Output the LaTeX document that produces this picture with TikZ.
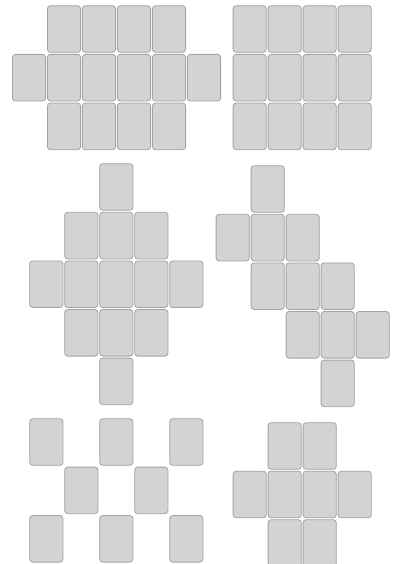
\documentclass[tikz,border=0pt]{standalone}
\usepackage{tikz}
\usepackage{xcolor}
\definecolor{cardfill}{HTML}{D2D3D5}
\definecolor{cardedge}{HTML}{A2A2A4}

\tikzset{
  card/.style={draw=cardedge, fill=cardfill, line width=0.8pt, rounded corners=3pt,
    minimum width=33.2pt, minimum height=46.6pt, inner sep=0pt, anchor=north west},
}

\begin{document}
\begin{tikzpicture}[x=1pt, y=-1pt]
    \path[use as bounding box, clip] (0,0) rectangle (397,564);
    % layout A: 4-6-4
    \begin{scope}[shift={(12,5.3)}]
      \foreach \c/\r in {1/0,2/0,3/0,4/0,0/1,1/1,2/1,3/1,4/1,5/1,1/2,2/2,3/2,4/2}
        \node[card] (a-\c-\r) at (\c*35,\r*48.7) {};
    \end{scope}
    % layout B: 4x3
    \begin{scope}[shift={(232.7,5.3)}]
      \foreach \c in {0,...,3}
        \foreach \r in {0,...,2}
          \node[card] (b-\c-\r) at (\c*35,\r*48.7) {};
    \end{scope}
    % layout C: diamond
    \begin{scope}[shift={(29.3,163.3)}]
      \foreach \c/\r in {2/0,1/1,2/1,3/1,0/2,1/2,2/2,3/2,4/2,1/3,2/3,3/3,2/4}
        \node[card] (c-\c-\r) at (\c*35,\r*48.6) {};
    \end{scope}
    % layout D: slant
    \begin{scope}[shift={(215.7,165.3)}]
      \foreach \c/\r in {1/0,0/1,1/1,2/1,1/2,2/2,3/2,2/3,3/3,4/3,3/4}
        \node[card] (d-\c-\r) at (\c*35,\r*48.6) {};
    \end{scope}
    % layout E: checker
    \begin{scope}[shift={(29.3,418.3)}]
      \foreach \c/\r in {0/0,2/0,4/0,1/1,3/1,0/2,2/2,4/2}
        \node[card] (e-\c-\r) at (\c*35,\r*48.4) {};
    \end{scope}
    % layout F: cross
    \begin{scope}[shift={(232.7,422.3)}]
      \foreach \c/\r in {1/0,2/0,0/1,1/1,2/1,3/1,1/2,2/2}
        \node[card] (f-\c-\r) at (\c*35,\r*48.5) {};
    \end{scope}
\end{tikzpicture}
\end{document}
